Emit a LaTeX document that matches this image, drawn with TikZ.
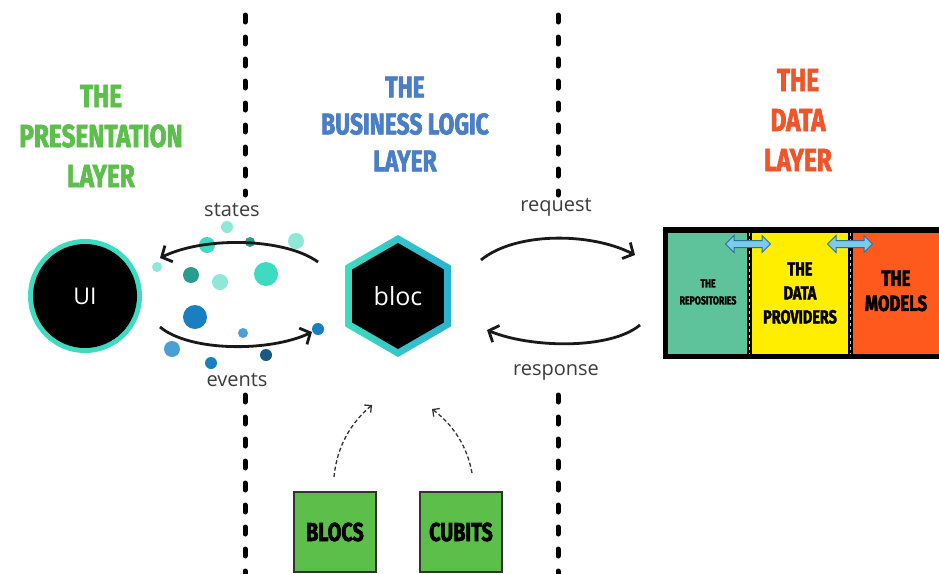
\documentclass[tikz,border=0pt]{standalone}
\usepackage{fontspec}
\setmainfont{Open Sans}
\newfontfamily\tfont[FakeStretch=0.76,FakeBold=2]{Fira Sans}
\usetikzlibrary{arrows.meta,shapes.geometric,shapes.arrows}
\definecolor{tgreen}{HTML}{5CBF4C}
\definecolor{tblue}{HTML}{4A7EC7}
\definecolor{torange}{HTML}{F0552A}
\definecolor{lgray}{HTML}{3C3C3C}
\definecolor{teal1}{HTML}{3DDBC0}
\definecolor{teal2}{HTML}{2AB2D2}
\definecolor{pgreen}{HTML}{5EC39B}
\definecolor{pyellow}{HTML}{FFEE00}
\definecolor{porange}{HTML}{FF5A1E}
\definecolor{bgreen}{HTML}{5CBF4A}
\definecolor{lteal}{HTML}{8EE8D8}
\definecolor{dteal}{HTML}{2A9D8A}
\definecolor{mblue}{HTML}{1A7FC0}
\definecolor{lblue}{HTML}{4A9FD5}
\definecolor{dblue}{HTML}{175A85}
\definecolor{arrfill}{HTML}{7CCBEB}
\definecolor{arrdraw}{HTML}{2A6FA0}
\begin{document}
\begin{tikzpicture}[x=1pt,y=-1pt,
  title/.style={align=center,font=\tfont\bfseries\fontsize{32}{40}\selectfont},
  lbl/.style={text=lgray,font=\fontsize{20}{22}\selectfont},
  vdash/.style={line width=5pt,line cap=round,dash pattern=on 7pt off 15pt},
  bigarr/.style={line width=2.8pt,draw=black!90,-{Straight Barb[length=8pt,width=18pt]}},
  thinarr/.style={line width=1.3pt,draw=black!80,dash pattern=on 4pt off 2.5pt,-{Straight Barb[length=5pt,width=10pt]}},
  bub/.style={circle,inner sep=0pt,minimum size=#1},
  darr/.style={double arrow,draw=arrdraw,fill=arrfill,line width=1pt,minimum height=45pt,inner sep=3pt,double arrow head extend=5pt},
  panel/.style={inner sep=0pt,align=center,font=\tfont\bfseries},
  sbox/.style={draw=black!80,line width=1.5pt,fill=bgreen,minimum width=82pt,minimum height=80pt,font=\tfont\bfseries\fontsize{26}{30}\selectfont}
]
\useasboundingbox (0,0) rectangle (939,573);
\fill[white] (0,0) rectangle (939,573);

% dashed separators
\coordinate (la) at (245,15); \coordinate (lb) at (245,195);
\coordinate (lc) at (245,395); \coordinate (ld) at (245,575);
\coordinate (ra) at (558,15); \coordinate (rb) at (558,195);
\coordinate (rc) at (558,395); \coordinate (rd) at (558,575);
\draw[vdash] (la) -- (lb);
\draw[vdash] (lc) -- (ld);
\draw[vdash] (ra) -- (rb);
\draw[vdash] (rc) -- (rd);

% titles
\node[title,text=tgreen] (tp) at (101,136) {THE\\PRESENTATION\\LAYER};
\node[title,text=tblue,font=\tfont\bfseries\fontsize{30}{37}\selectfont] (tb) at (405,124) {THE\\BUSINESS LOGIC\\LAYER};
\node[title,text=torange] (td) at (798,120) {THE\\DATA\\LAYER};

% UI circle
\node[circle,fill=teal1,minimum size=114pt,inner sep=0pt] (uiout) at (85,296) {};
\node[circle,fill=black,minimum size=104pt,inner sep=0pt,text=white,font=\fontsize{23}{26}\selectfont] (ui) at (85,296) {UI};

% bloc hexagon
\node[regular polygon,regular polygon sides=6,shape border rotate=30,minimum size=122pt,inner sep=0pt,left color=teal1,right color=teal2] (blocout) at (398,296) {};
\node[regular polygon,regular polygon sides=6,shape border rotate=30,minimum size=106pt,inner sep=0pt,fill=black,text=white,font=\fontsize{25}{28}\selectfont] (bloc) at (398,296) {bloc};

% bubbles
\node[bub=12pt,fill=lteal] (b1) at (227,227) {};
\node[bub=16pt,fill=teal1] (b2) at (207,245) {};
\node[bub=10pt,fill=dteal] (b3) at (250,242) {};
\node[bub=16pt,fill=lteal] (b4) at (296,241) {};
\node[bub=10pt,fill=lteal] (b5) at (157,267) {};
\node[bub=16pt,fill=dteal] (b6) at (191,275) {};
\node[bub=16pt,fill=lteal] (b7) at (220,282) {};
\node[bub=24pt,fill=teal1] (b8) at (266,274) {};
\node[bub=24pt,fill=mblue] (b9) at (195,317) {};
\node[bub=10pt,fill=lblue] (b10) at (243,333) {};
\node[bub=12pt,fill=mblue] (b11) at (318,329) {};
\node[bub=16pt,fill=lblue] (b12) at (172,349) {};
\node[bub=12pt,fill=mblue] (b13) at (211,363) {};
\node[bub=12pt,fill=dblue] (b14) at (266,355) {};

% arrows between UI and bloc
\coordinate (s1) at (318,262); \coordinate (s2) at (160,258);
\coordinate (e1) at (160,327); \coordinate (e2) at (312,332);
\draw[bigarr] (s1) .. controls (285,238) and (205,236) .. (s2);
\draw[bigarr] (e1) .. controls (190,352) and (270,352) .. (e2);
\node[lbl] (ls) at (232,210) {states};
\node[lbl] (le) at (237,380) {events};

% arrows between bloc and data
\coordinate (q1) at (481,260); \coordinate (q2) at (635,255);
\coordinate (p1) at (640,325); \coordinate (p2) at (487,330);
\draw[bigarr] (q1) .. controls (515,232) and (590,232) .. (q2);
\draw[bigarr] (p1) .. controls (610,350) and (530,348) .. (p2);
\node[lbl] (lq) at (556,207) {request};
\node[lbl] (lr) at (556,372) {response};

% data layer block
\fill[black] (663,227) rectangle (939,359);
\fill[pgreen] (668,233) rectangle (747,354);
\fill[pyellow] (752,233) rectangle (848,354);
\fill[porange] (853,233) rectangle (939,354);
\draw[white!60!gray,line width=0.6pt,dash pattern=on 3pt off 3pt] (749.5,233) -- (749.5,354);
\draw[white!60!gray,line width=0.6pt,dash pattern=on 3pt off 3pt] (850.5,233) -- (850.5,354);
\node[panel,font=\tfont\bfseries\fontsize{11.5}{17}\selectfont] (rep) at (708,292) {THE\\REPOSITORIES};
\node[panel,font=\tfont\bfseries\fontsize{19}{24}\selectfont] (dp) at (800,293) {THE\\DATA\\PROVIDERS};
\node[panel,font=\tfont\bfseries\fontsize{22}{25}\selectfont] (mod) at (896,291) {THE\\MODELS};
\node[darr] (da1) at (748,244) {};
\node[darr] (da2) at (850,244) {};

% blocs / cubits
\node[sbox] (blocs) at (335,532) {BLOCS};
\node[sbox] (cubits) at (461,532) {CUBITS};
\coordinate (c1) at (334,477); \coordinate (c2) at (372,405);
\coordinate (c3) at (472,473); \coordinate (c4) at (432,409);
\draw[thinarr] (c1) .. controls (337,445) and (352,422) .. (c2);
\draw[thinarr] (c3) .. controls (467,445) and (452,424) .. (c4);
\end{tikzpicture}
\end{document}
